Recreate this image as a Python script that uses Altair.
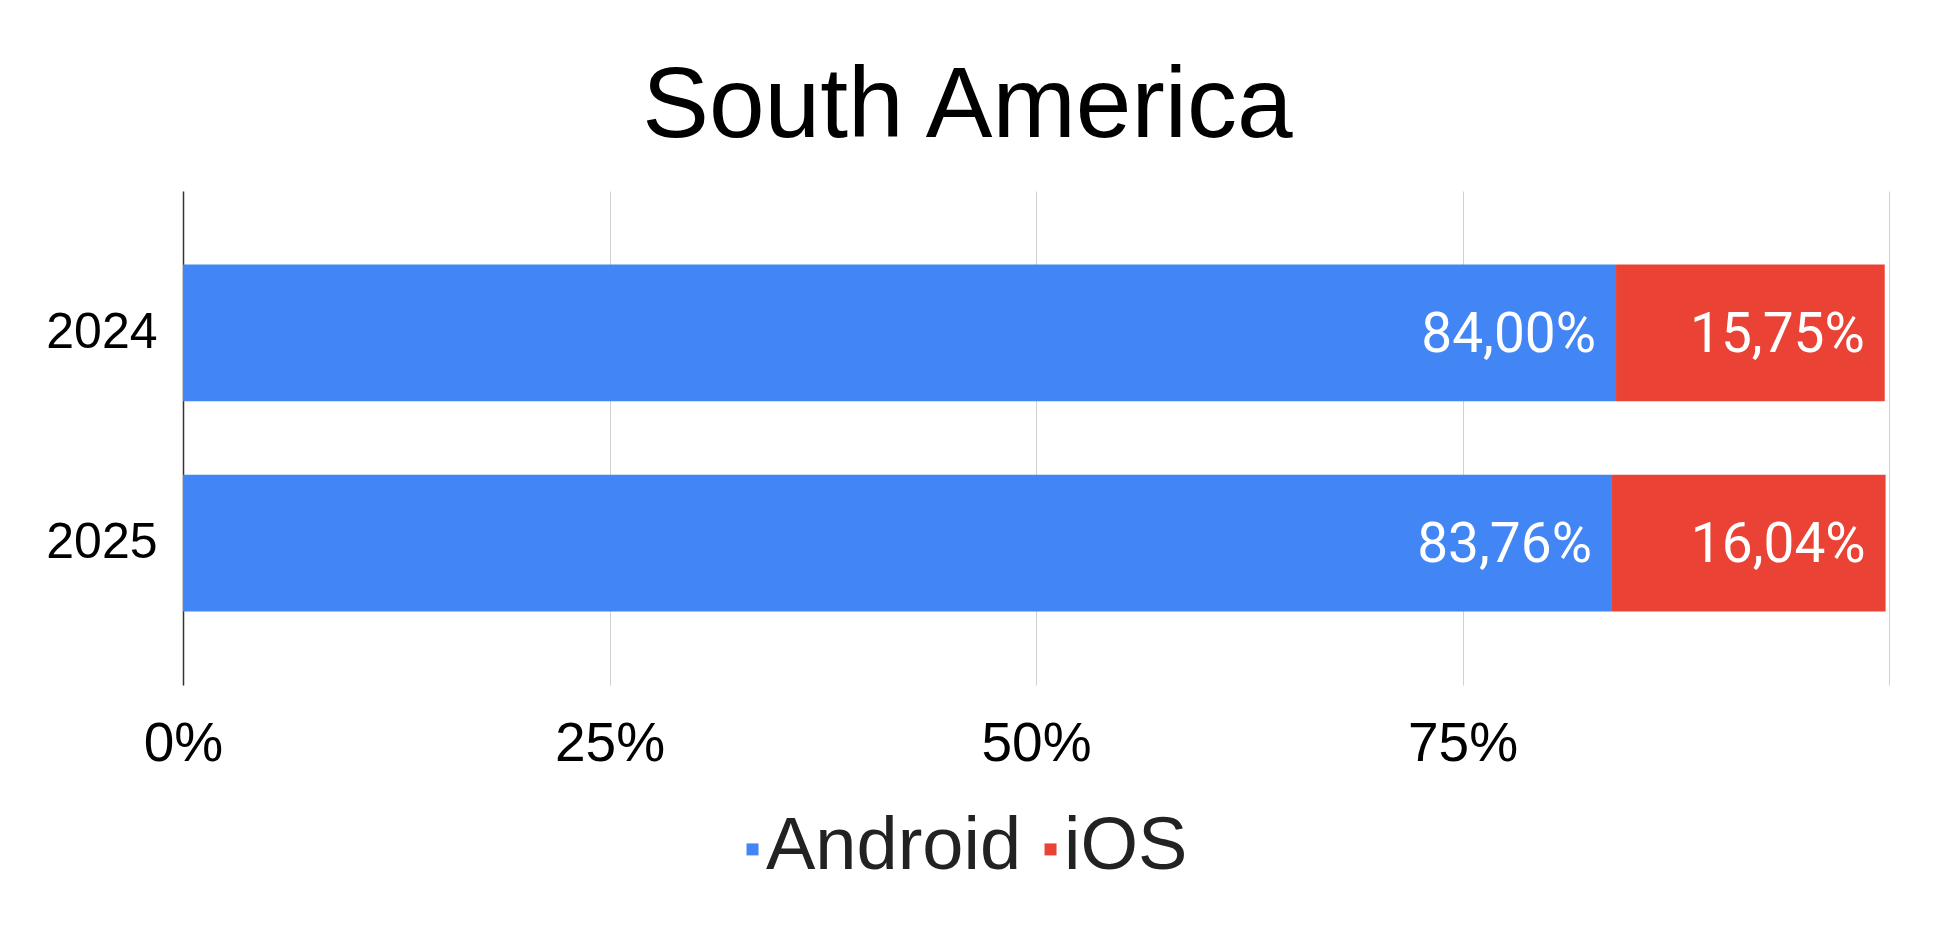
import altair as alt
import pandas as pd

years = ["2024", "2025"]
platforms = ["Android", "iOS"]
android_share = [84.00, 83.76]
ios_share = [15.75, 16.04]
colors = ["#4285F4", "#EA4335"]
tick_values = [0, 0.25, 0.5, 0.75, 1.0]

rows = []
for i, yr in enumerate(years):
    rows.append({"year": yr, "platform": platforms[0], "share": android_share[i], "order": 0})
    rows.append({"year": yr, "platform": platforms[1], "share": ios_share[i], "order": 1})
df = pd.DataFrame(rows)

base = alt.Chart(df).transform_calculate(
    frac="datum.share / 100",
    label="replace(format(datum.share, '.2f'), '.', ',') + '%'",
).transform_stack(
    stack="frac", as_=["x0", "x1"], groupby=["year"], sort=[alt.SortField("order")]
)

y_enc = alt.Y(
    "year:N",
    sort=years,
    title=None,
    scale=alt.Scale(paddingInner=0.35, paddingOuter=0.35),
    axis=alt.Axis(
        labelFontSize=50, labelFont="Liberation Sans", labelColor="#000000",
        labelPadding=26, ticks=False, grid=False, domain=True,
        domainColor="#333333", domainWidth=1.5,
    ),
)

x_enc = alt.X(
    "x0:Q",
    title=None,
    scale=alt.Scale(domain=[0, 1], nice=False),
    axis=alt.Axis(
        values=tick_values, format="%", labelExpr="datum.value >= 1 ? '' : datum.label",
        labelFontSize=55, labelFont="Liberation Sans", labelColor="#000000",
        labelPadding=32, labelFlush=False, labelOverlap=False,
        ticks=False, domain=False, grid=True, gridColor="#d0d0d0", gridWidth=1,
    ),
)

legend_x = [509, 807]
# small square drawn close to its label (custom path, unit = half the symbol side)
legend_symbol = "M2.92,-0.6H4.92V1.4H2.92Z"


def platform_bars(i):
    return base.transform_filter(
        alt.datum.platform == platforms[i]
    ).mark_bar().encode(
        x=x_enc,
        x2="x1:Q",
        y=y_enc,
        color=alt.Color(
            "platform:N",
            scale=alt.Scale(domain=[platforms[i]], range=[colors[i]]),
            legend=alt.Legend(
                title=None, orient="none", direction="horizontal",
                legendX=legend_x[i], legendY=619,
                symbolType=legend_symbol, symbolSize=144, symbolStrokeWidth=0,
                labelFontSize=74, labelFont="Liberation Sans", labelColor="#222222",
                labelLimit=0, labelOffset=0, columnPadding=0, padding=0,
            ),
        ),
    )


texts = base.mark_text(
    align="right", baseline="middle", dx=-20, dy=2, font="Roboto", fontSize=55, color="white"
).encode(
    x="x1:Q",
    y=alt.Y("year:N", sort=years),
    text="label:N",
)

chart = alt.layer(platform_bars(0), platform_bars(1), texts).resolve_scale(
    color="independent"
).properties(
    width=1706,
    height=494,
    title=alt.TitleParams(
        "South America", fontSize=100, font="Liberation Sans", fontWeight="normal",
        color="#000000", anchor="middle", frame="bounds", baseline="alphabetic", offset=-46,
    ),
    autosize=alt.AutoSizeParams(type="none"),
    padding={"left": 175, "top": 183, "right": 37, "bottom": 244},
).configure_view(stroke=None)

chart.save("out.html", embed_options={"renderer": "svg", "actions": False})
